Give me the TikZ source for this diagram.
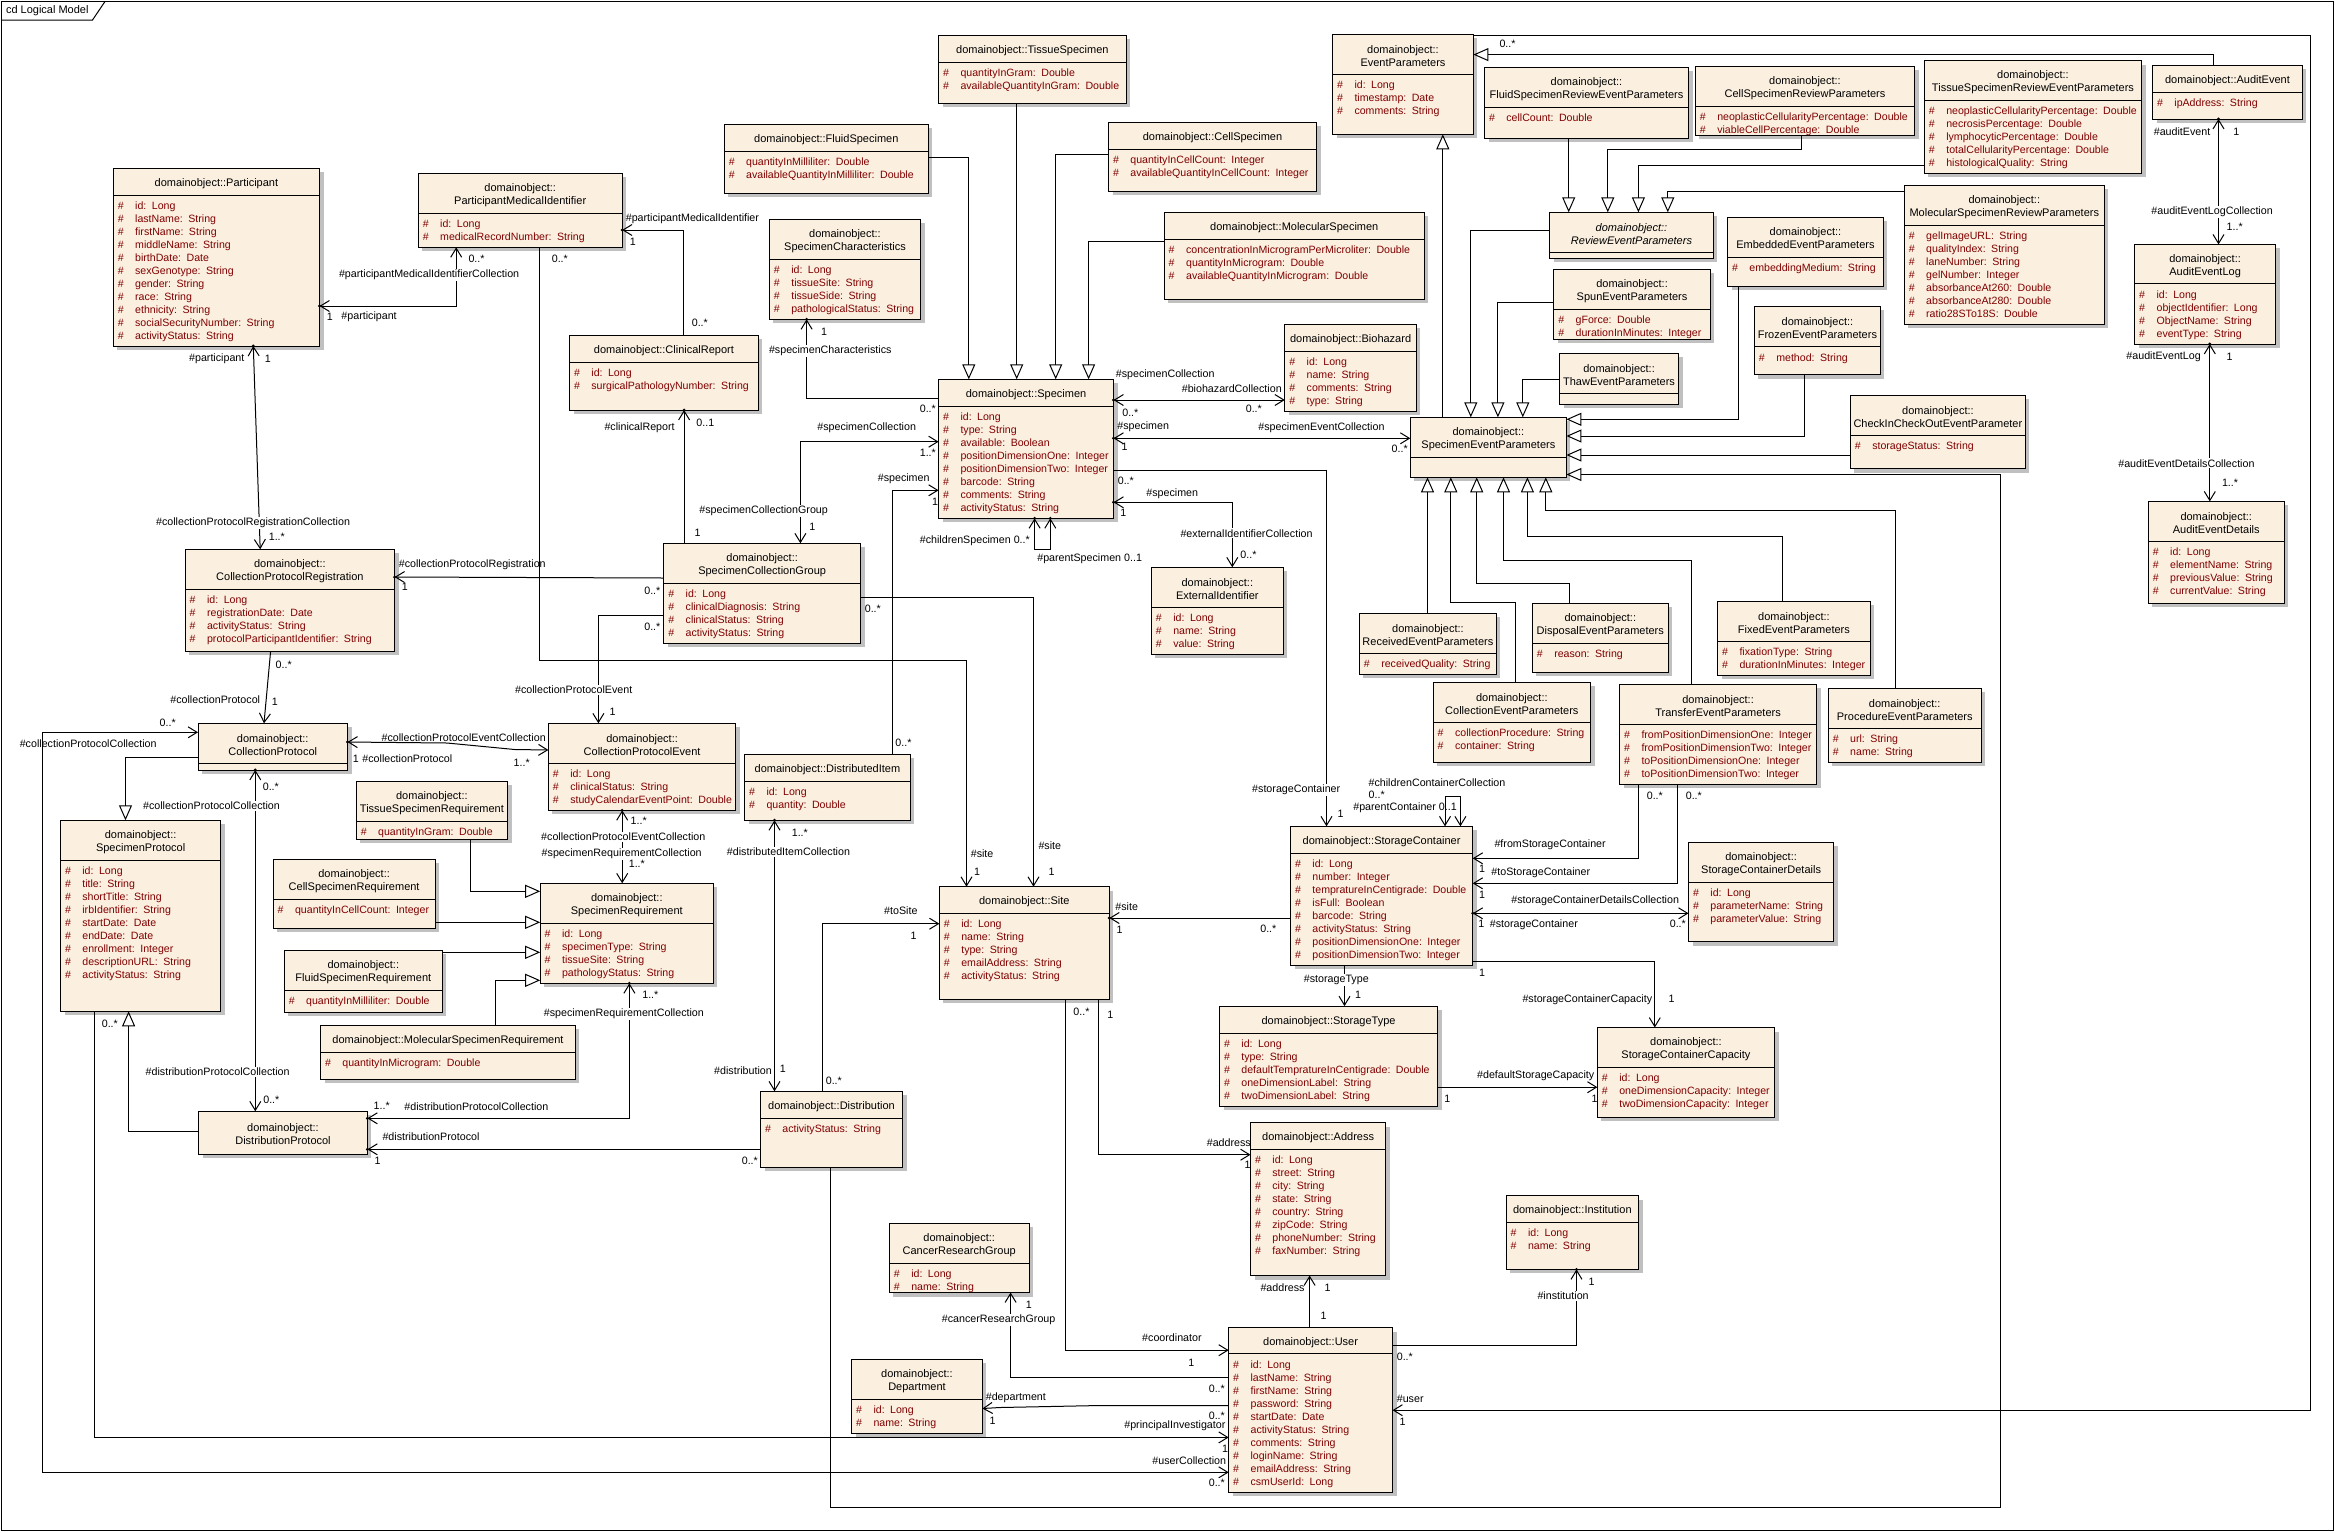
\documentclass[tikz,border=0pt]{standalone}
\usepackage{fontspec}
\setmainfont{Liberation Sans}
\usetikzlibrary{arrows.meta,fit}
\definecolor{cream}{RGB}{251,240,224}
\definecolor{attrred}{RGB}{128,0,0}
\definecolor{shdw}{RGB}{192,192,192}
\tikzset{
  box/.style={draw, fill=cream, inner sep=0pt, outer sep=0pt, line width=1pt},
  ttl/.style={font=\fontsize{11}{13}\selectfont, align=center, inner sep=0pt},
  attr/.style={font=\fontsize{10.6}{13}\selectfont, text=attrred, inner sep=0pt, anchor=base west},
  lbl/.style={font=\fontsize{10.7}{13}\selectfont, inner sep=0.3pt, anchor=west},
  lblw/.style={lbl, fill=white, inner sep=1pt},
  nav/.style={-{Straight Barb[length=9pt,width=11pt]}},
  both/.style={{Straight Barb[length=9pt,width=11pt]}-{Straight Barb[length=9pt,width=11pt]}},
  gen/.style={-{Triangle[open,length=15pt,width=13pt]}},
}
% name, L, T, R, B, separator, title, attributes
\newcommand\cls[8]{%
  \fill[shdw] (#2+4,#3+4) rectangle (#4+4,#5+4);
  \node[box, fit={(#2,#3) (#4,#5)}] (#1) {};
  \draw (#2,#6) -- (#4,#6);
  \node[ttl] at ({(#2+#4)/2},{(#3+#6)/2+1.5}) {#7};
  \foreach \aN/\aT [count=\ai] in {#8} {
    \node[attr] at (#2+4,{#6+14.2+13*(\ai-1)}) {\makebox[17.4pt][l]{\#}\aN:\hspace{5.5pt}\aT};
  }
}
\newcommand\clsE[7]{%
  \fill[shdw] (#2+4,#3+4) rectangle (#4+4,#5+4);
  \node[box, fit={(#2,#3) (#4,#5)}] (#1) {};
  \draw (#2,#6) -- (#4,#6);
  \node[ttl] at ({(#2+#4)/2},{(#3+#6)/2+1.5}) {#7};
}
\newcommand\clsN[6]{%
  \fill[shdw] (#2+4,#3+4) rectangle (#4+4,#5+4);
  \node[box, fit={(#2,#3) (#4,#5)}] (#1) {};
  \node[ttl] at ({(#2+#4)/2},{(#3+#5)/2+1}) {#6};
}
\newcommand\lbl[3]{\node[lbl] at (#1,#2) {#3};}
\newcommand\lblw[3]{\node[lblw] at (#1,#2) {#3};}
\newcommand\dotp[1]{\fill #1 circle (1.6pt);}
\begin{document}
\begin{tikzpicture}[x=1pt,y=-1pt,line width=1pt]
\useasboundingbox (0,0) rectangle (2335,1532);
\fill[white] (0,0) rectangle (2335,1532);
% frame
\draw (1.5,1.5) rectangle (2333.5,1530.5);
\draw (1.5,20) -- (92.5,20) -- (105,1.5);
\node[ttl, anchor=west] (frametitle) at (5.5,11) {cd Logical Model};

% ---------------- classes ----------------
\cls{part}{113.3}{168.3}{319.5}{346}{195.3}{domainobject::Participant}{id/Long, lastName/String, firstName/String, middleName/String, birthDate/Date, sexGenotype/String, gender/String, race/String, ethnicity/String, socialSecurityNumber/String, activityStatus/String}
\cls{pmi}{418.3}{173.3}{622.1}{247.3}{213.3}{domainobject::\\ParticipantMedicalIdentifier}{id/Long, medicalRecordNumber/String}
\cls{clin}{569.5}{335}{758.3}{410}{362.3}{domainobject::ClinicalReport}{id/Long, surgicalPathologyNumber/String}
\cls{fluid}{724.3}{124.3}{928.3}{193.3}{151.3}{domainobject::FluidSpecimen}{quantityInMilliliter/Double, availableQuantityInMilliliter/Double}
\cls{tissue}{938.6}{35.3}{1126.1}{103.3}{62.3}{domainobject::TissueSpecimen}{quantityInGram/Double, availableQuantityInGram/Double}
\cls{cell}{1108.5}{122.3}{1316.5}{191.3}{149.3}{domainobject::CellSpecimen}{quantityInCellCount/Integer, availableQuantityInCellCount/Integer}
\cls{schar}{769.4}{219.3}{920.6}{319.3}{259.3}{domainobject::\\SpecimenCharacteristics}{id/Long, tissueSite/String, tissueSide/String, pathologicalStatus/String}
\cls{mol}{1164.2}{212.3}{1424.4}{299.3}{239.3}{domainobject::MolecularSpecimen}{concentrationInMicrogramPerMicroliter/Double, quantityInMicrogram/Double, availableQuantityInMicrogram/Double}
\cls{spec}{938.6}{379.3}{1113.5}{518.3}{406.3}{domainobject::Specimen}{id/Long, type/String, available/Boolean, positionDimensionOne/Integer, positionDimensionTwo/Integer, barcode/String, comments/String, activityStatus/String}
\cls{bio}{1284.8}{324.3}{1416.4}{411.3}{351}{domainobject::Biohazard}{id/Long, name/String, comments/String, type/String}
\cls{ep}{1332.6}{34.3}{1473.4}{134.3}{74.3}{domainobject::\\EventParameters}{id/Long, timestamp/Date, comments/String}
\cls{fsrep}{1484.5}{67.3}{1688.5}{138}{107.3}{domainobject::\\FluidSpecimenReviewEventParameters}{cellCount/Double}
\cls{csrp}{1695.4}{66.4}{1914.6}{135.2}{106.4}{domainobject::\\CellSpecimenReviewParameters}{neoplasticCellularityPercentage/Double, viableCellPercentage/Double}
\cls{tsrep}{1924.4}{60.5}{2141.5}{173.2}{100}{domainobject::\\TissueSpecimenReviewEventParameters}{neoplasticCellularityPercentage/Double, necrosisPercentage/Double, lymphocyticPercentage/Double, totalCellularityPercentage/Double, histologicalQuality/String}
\cls{aev}{2152.5}{65.2}{2302.4}{119}{92.5}{domainobject::AuditEvent}{ipAddress/String}
\cls{msrp}{1904.3}{185.4}{2104.3}{324.2}{225.4}{domainobject::\\MolecularSpecimenReviewParameters}{gelImageURL/String, qualityIndex/String, laneNumber/String, gelNumber/Integer, absorbanceAt260/Double, absorbanceAt280/Double, ratio28STo18S/Double}
\cls{emb}{1727.5}{217}{1883.4}{286}{257}{domainobject::\\EmbeddedEventParameters}{embeddingMedium/String}
\cls{frozen}{1754.4}{306.4}{1880.4}{374.8}{346.8}{domainobject::\\FrozenEventParameters}{method/String}
\cls{chk}{1850.4}{395.4}{2025.4}{468.6}{435.3}{domainobject::\\CheckInCheckOutEventParameter}{storageStatus/String}
\cls{ael}{2134.7}{244.4}{2275.5}{344}{283.9}{domainobject::\\AuditEventLog}{id/Long, objectIdentifier/Long, ObjectName/String, eventType/String}
\cls{aed}{2148.3}{501.4}{2284.2}{603}{541}{domainobject::\\AuditEventDetails}{id/Long, elementName/String, previousValue/String, currentValue/String}
\clsE{rep}{1549.6}{212.3}{1713.4}{258}{252}{\itshape domainobject::\\\itshape ReviewEventParameters}
\cls{spun}{1553.8}{269.3}{1710.3}{339.3}{309.3}{domainobject::\\SpunEventParameters}{gForce/Double, durationInMinutes/Integer}
\clsE{thaw}{1559.5}{353.3}{1678.6}{404.3}{393.3}{domainobject::\\ThawEventParameters}
\clsE{sep}{1410.3}{417.3}{1566.4}{477.3}{457.3}{domainobject::\\SpecimenEventParameters}
\cls{extid}{1151.4}{567.3}{1283.2}{654.3}{607.3}{domainobject::\\ExternalIdentifier}{id/Long, name/String, value/String}
\cls{recv}{1359.4}{613.3}{1496.4}{674}{653.3}{domainobject::\\ReceivedEventParameters}{receivedQuality/String}
\cls{disp}{1532.4}{603.3}{1668.2}{672.3}{643.3}{domainobject::\\DisposalEventParameters}{reason/String}
\cls{colev}{1433.2}{682.3}{1590.5}{762.3}{722.3}{domainobject::\\CollectionEventParameters}{collectionProcedure/String, container/String}
\cls{trans}{1619.6}{684.3}{1816.5}{784.3}{724.3}{domainobject::\\TransferEventParameters}{fromPositionDimensionOne/Integer, fromPositionDimensionTwo/Integer, toPositionDimensionOne/Integer, toPositionDimensionTwo/Integer}
\cls{fixed}{1717.6}{601.3}{1870.2}{675.3}{641.7}{domainobject::\\FixedEventParameters}{fixationType/String, durationInMinutes/Integer}
\cls{proc}{1828.3}{688.3}{1981.2}{762.3}{728.7}{domainobject::\\ProcedureEventParameters}{url/String, name/String}
\cls{scd}{1688.5}{842.3}{1833.7}{941.7}{882.3}{domainobject::\\StorageContainerDetails}{id/Long, parameterName/String, parameterValue/String}
\cls{sc}{1290.5}{826.3}{1472.7}{965}{853}{domainobject::StorageContainer}{id/Long, number/Integer, tempratureInCentigrade/Double, isFull/Boolean, barcode/String, activityStatus/String, positionDimensionOne/Integer, positionDimensionTwo/Integer}
\cls{stype}{1219.5}{1006.1}{1437.6}{1106.2}{1033.3}{domainobject::StorageType}{id/Long, type/String, defaultTempratureInCentigrade/Double, oneDimensionLabel/String, twoDimensionLabel/String}
\cls{scc}{1597.4}{1027.5}{1774.5}{1117.4}{1067.2}{domainobject::\\StorageContainerCapacity}{id/Long, oneDimensionCapacity/Integer, twoDimensionCapacity/Integer}
\cls{inst}{1506.1}{1195.5}{1638.5}{1269.4}{1222.6}{domainobject::Institution}{id/Long, name/String}
\cls{addr}{1250.5}{1122.5}{1385.7}{1275.5}{1149.3}{domainobject::Address}{id/Long, street/String, city/String, state/String, country/String, zipCode/String, phoneNumber/String, faxNumber/String}
\cls{user}{1228.7}{1327.5}{1392.5}{1492}{1353.9}{domainobject::User}{id/Long, lastName/String, firstName/String, password/String, startDate/Date, activityStatus/String, comments/String, loginName/String, emailAddress/String, csmUserId/Long}
\cls{crg}{889.4}{1223.3}{1029}{1292.5}{1263.3}{domainobject::\\CancerResearchGroup}{id/Long, name/String}
\cls{dept}{851.6}{1359.4}{982.4}{1433.3}{1399.4}{domainobject::\\Department}{id/Long, name/String}
\cls{dist}{760.5}{1091.3}{902.5}{1167.3}{1118.4}{domainobject::Distribution}{activityStatus/String}
\cls{site}{939.4}{886.7}{1109.3}{999}{913.3}{domainobject::Site}{id/Long, name/String, type/String, emailAddress/String, activityStatus/String}
\cls{ditem}{744.6}{754.3}{910.3}{820.3}{781.7}{domainobject::DistributedItem}{id/Long, quantity/Double}
\cls{scg}{663.8}{543.3}{860.5}{643.3}{583.3}{domainobject::\\SpecimenCollectionGroup}{id/Long, clinicalDiagnosis/String, clinicalStatus/String, activityStatus/String}
\cls{cpe}{548.4}{723.3}{735.8}{810.3}{763.3}{domainobject::\\CollectionProtocolEvent}{id/Long, clinicalStatus/String, studyCalendarEventPoint/Double}
\cls{sreq}{540.2}{883.3}{713.4}{983.3}{923.3}{domainobject::\\SpecimenRequirement}{id/Long, specimenType/String, tissueSite/String, pathologyStatus/String}
\cls{tsreq}{356.3}{781.3}{507.5}{839}{821.3}{domainobject::\\TissueSpecimenRequirement}{quantityInGram/Double}
\cls{csreq}{273.2}{859.3}{435.1}{928}{899.3}{domainobject::\\CellSpecimenRequirement}{quantityInCellCount/Integer}
\cls{fsreq}{284.3}{950.3}{442.4}{1012.3}{990.3}{domainobject::\\FluidSpecimenRequirement}{quantityInMilliliter/Double}
\cls{msreq}{320.5}{1025.4}{575.4}{1079.4}{1052.6}{domainobject::MolecularSpecimenRequirement}{quantityInMicrogram/Double}
\cls{cpr}{185.2}{549.3}{394.6}{651.3}{589.3}{domainobject::\\CollectionProtocolRegistration}{id/Long, registrationDate/Date, activityStatus/String, protocolParticipantIdentifier/String}
\cls{sprot}{60.5}{820.3}{220.8}{1011.3}{860.3}{domainobject::\\SpecimenProtocol}{id/Long, title/String, shortTitle/String, irbIdentifier/String, startDate/Date, endDate/Date, enrollment/Integer, descriptionURL/String, activityStatus/String}
\clsE{cp}{198}{723.3}{347.5}{770}{763.3}{domainobject::\\CollectionProtocol}
\clsN{dprot}{198.6}{1111.3}{367.4}{1154.4}{domainobject::\\DistributionProtocol}

% ---------------- associations ----------------
\draw[both] (pmi.south -| 456.2,0) -- (456.2,306) -- (part.east |- 0,306);
\dotp{(part.east |- 0,306)}
\draw[both] (part.south -| 253.3,0) -- (cpr.north -| 260.2,0);
\dotp{(part.south -| 253.3,0)}
\draw[nav] (clin.north -| 683.3,0) |- (pmi.east |- 0,230);
\dotp{(pmi.east |- 0,230)}
\draw[nav] (pmi.south -| 539.6,0) -- (539.6,660.3) -- (966.5,660.3) -- (site.north -| 966.5,0);
\draw[nav] (scg.north -| 684.1,0) -- (clin.south -| 684.1,0);
\dotp{(clin.south -| 684.1,0)}
\draw[nav] (spec.west |- 0,398.3) -| (schar.south -| 806.6,0);
\dotp{(schar.south -| 806.6,0)}
\draw[both] (scg.north -| 800.4,0) |- (spec.west |- 0,441.7);
\draw[nav] (ditem.north -| 892.3,0) |- (spec.west |- 0,490.3);
\draw[both] (spec.south -| 1034.6,0) -- (1034.6,549.3) -- (1050.3,549.3) -- (spec.south -| 1050.3,0);
\dotp{(spec.south -| 1034.6,0)}
\dotp{(spec.south -| 1050.3,0)}
\draw[both] (spec.east |- 0,438.3) -- (sep.west |- 0,438.3);
\dotp{(spec.east |- 0,438.3)}
\draw[both] (spec.east |- 0,400) -- (bio.west |- 0,400);
\dotp{(spec.east |- 0,400)}
\draw[both] (spec.east |- 0,502.3) -| (extid.north -| 1232.3,0);
\dotp{(spec.east |- 0,502.3)}
\draw[nav] (spec.east |- 0,470.3) -| (sc.north -| 1326.5,0);
\draw[nav] (scg.east |- 0,597) -| (site.north -| 1033.5,0);
\draw[nav] (scg.west |- 0,578) -- (cpr.east |- 0,577);
\dotp{(cpr.east |- 0,577)}
\draw[nav] (scg.west |- 0,615.7) -| (cpe.north -| 598.4,0);
\draw[nav] (cpr.south -| 270.6,0) -- (cp.north -| 264,0);
\draw[both] (cp.east |- 0,742) -- (447,743) -- (514.7,749.5) -- (cpe.west |- 0,750);
\dotp{(cp.east |- 0,742)}
\draw[both] (user.west |- 0,1472.3) -| (42.4,732.3) -- (cp.west |- 0,732.3);
\draw[nav] (sprot.south -| 94.6,0) |- (user.west |- 0,1437.4);
\draw[both] (cp.south -| 255.3,0) -- (dprot.north -| 255.3,0);
\dotp{(cp.south -| 255.3,0)}
\draw[both] (sreq.south -| 629.4,0) |- (dprot.east |- 0,1118.3);
\dotp{(sreq.south -| 629.4,0)}
\dotp{(dprot.east |- 0,1118.3)}
\draw[nav] (dist.west |- 0,1149.3) -- (dprot.east |- 0,1149.3);
\dotp{(dprot.east |- 0,1149.3)}
\draw[both] (ditem.south -| 774.5,0) -- (dist.north -| 774.5,0);
\dotp{(ditem.south -| 774.5,0)}
\draw[nav] (dist.north -| 822.3,0) |- (site.west |- 0,923.7);
\draw[nav] (ep.east |- 0,35.5) -- (2310.5,35.5) -- (2310.5,1410.2) -- (user.east |- 0,1410.2);
\draw[nav] (user.east |- 0,1345.4) -| (inst.south -| 1576.5,0);
\dotp{(inst.south -| 1576.5,0)}
\draw[nav] (user.north -| 1309.6,0) -- (addr.south -| 1309.6,0);
\draw[nav] (site.south -| 1098.3,0) |- (addr.west |- 0,1154.7);
\draw[nav] (site.south -| 1065.3,0) |- (user.west |- 0,1350.2);
\draw[nav] (user.west |- 0,1377) -| (crg.south -| 1010.6,0);
\draw[nav] (user.west |- 0,1405.5) -- (1100,1405.5) -- (1000,1407.5) -- (dept.east |- 0,1408.5);
\draw[nav] (sc.west |- 0,918) -- (site.east |- 0,918);
\dotp{(site.east |- 0,918)}
\draw[both] (sc.north -| 1445,0) -- (1445,796.3) -- (1460.4,796.3) -- (sc.north -| 1460.4,0);
\draw[nav] (trans.south -| 1638.4,0) |- (sc.east |- 0,858.3);
\draw[nav] (trans.south -| 1677.4,0) |- (sc.east |- 0,883.3);
\draw[both] (sc.east |- 0,913.3) -- (scd.west |- 0,913.3);
\dotp{(sc.east |- 0,913.3)}
\draw[nav] (sc.south -| 1344.5,0) -- (stype.north -| 1344.5,0);
\draw[nav] (sc.east |- 0,961.7) -| (scc.north -| 1654.8,0);
\draw[nav] (stype.east |- 0,1087.2) -- (scc.west |- 0,1087.2);
\draw[both] (aev.south -| 2218.5,0) -- (ael.north -| 2218.5,0);
\dotp{(aev.south -| 2218.5,0)}
\draw[both] (ael.south -| 2209.8,0) -- (aed.north -| 2209.8,0);
\dotp{(ael.south -| 2209.8,0)}
\draw[both] (cpe.south -| 622.2,0) -- (sreq.north -| 622.2,0);
\dotp{(cpe.south -| 622.2,0)}

% ---------------- generalizations ----------------
\draw[gen] (fluid.east |- 0,157.3) -| (spec.north -| 968.8,0);
\draw[gen] (tissue.south -| 1016.7,0) -- (spec.north -| 1016.7,0);
\draw[gen] (cell.west |- 0,154.3) -| (spec.north -| 1055.7,0);
\draw[gen] (mol.west |- 0,241.3) -| (spec.north -| 1088.6,0);
\draw[gen] (rep.west |- 0,230) -| (sep.north -| 1470.8,0);
\draw[gen] (spun.west |- 0,302.3) -| (sep.north -| 1497.9,0);
\draw[gen] (thaw.west |- 0,379.3) -| (sep.north -| 1522.8,0);
\draw[gen] (sep.north -| 1442.8,0) -- (ep.south -| 1442.8,0);
\draw[gen] (emb.south -| 1738.6,0) |- (sep.east |- 0,419.3);
\draw[gen] (frozen.south -| 1804.5,0) |- (sep.east |- 0,436);
\draw[gen] (chk.west |- 0,455) -- (sep.east |- 0,455);
\draw[gen] (dist.south -| 830.3,0) -- (830.3,1507.3) -- (2000.4,1507.3) -- (2000.4,474.5) -- (sep.east |- 0,474.5);
\draw[gen] (recv.north -| 1427.5,0) -- (sep.south -| 1427.5,0);
\draw[gen] (colev.north -| 1515.5,0) |- (1450.8,602.3) -- (sep.south -| 1450.8,0);
\draw[gen] (disp.north -| 1569.5,0) |- (1476.7,583.3) -- (sep.south -| 1476.7,0);
\draw[gen] (trans.north -| 1691.6,0) |- (1503.5,560.3) -- (sep.south -| 1503.5,0);
\draw[gen] (fixed.north -| 1782.8,0) |- (1527.4,536.7) -- (sep.south -| 1527.4,0);
\draw[gen] (proc.north -| 1895.3,0) |- (1545.8,510) -- (sep.south -| 1545.8,0);
\draw[gen] (fsrep.south -| 1568.7,0) -- (rep.north -| 1568.7,0);
\draw[gen] (csrp.south -| 1801.5,0) |- (1607.8,149.4) -- (rep.north -| 1607.8,0);
\draw[gen] (tsrep.west |- 0,165.5) -| (rep.north -| 1638.4,0);
\draw[gen] (msrp.west |- 0,191.5) -| (rep.north -| 1667.8,0);
\draw[gen] (aev.north -| 2213.2,0) |- (ep.east |- 0,54.6);
\draw[gen] (cp.west |- 0,757.3) -| (sprot.north -| 125.5,0);
\draw[gen] (dprot.west |- 0,1131.3) -| (sprot.south -| 128.6,0);
\draw[gen] (tsreq.south -| 470.5,0) |- (sreq.west |- 0,891.3);
\draw[gen] (csreq.east |- 0,922.3) -- (sreq.west |- 0,922.3);
\draw[gen] (fsreq.east |- 0,952.3) -- (sreq.west |- 0,952.3);
\draw[gen] (msreq.north -| 495.5,0) |- (sreq.west |- 0,980.3);

% ---------------- labels ----------------
\lblw{337.5}{274.7}{\#participantMedicalIdentifierCollection}
\lbl{467.7}{259.3}{0..*}
\lbl{326}{317.3}{1}
\lbl{340.6}{316.7}{\#participant}
\lbl{188.3}{359}{\#participant}
\lbl{264}{359}{1}
\lblw{154.6}{522.7}{\#collectionProtocolRegistrationCollection}
\lbl{268}{537.3}{1..*}
\lbl{625}{218.7}{\#participantMedicalIdentifier}
\lbl{629}{241.7}{1}
\lbl{691}{323.3}{0..*}
\lbl{551}{259.3}{0..*}
\lbl{970}{853.3}{\#site}
\lbl{973.4}{871.7}{1}
\lbl{603.7}{427.7}{\#clinicalReport}
\lbl{695.6}{422.7}{0..1}
\lbl{693.7}{533.3}{1}
\lbl{820.3}{331.7}{1}
\lblw{767.5}{350.7}{\#specimenCharacteristics}
\lbl{919}{409.3}{0..*}
\lbl{816.5}{427.7}{\#specimenCollection}
\lbl{919}{452.7}{1..*}
\lblw{697.9}{510.7}{\#specimenCollectionGroup}
\lbl{808.5}{526.7}{1}
\lbl{877}{479}{\#specimen}
\lbl{931.3}{501.7}{1}
\lbl{894.6}{743.3}{0..*}
\lbl{919}{540.7}{\#childrenSpecimen 0..*}
\lbl{1036.5}{559}{\#parentSpecimen 0..1}
\lbl{1116.5}{427}{\#specimen}
\lbl{1120.8}{446.7}{1}
\lbl{1257.6}{427.7}{\#specimenEventCollection}
\lbl{1390.8}{449.3}{0..*}
\lbl{1115}{374.7}{\#specimenCollection}
\lbl{1121.5}{412.7}{0..*}
\lbl{1181}{388.7}{\#biohazardCollection}
\lbl{1245}{409.3}{0..*}
\lbl{1145.6}{494}{\#specimen}
\lbl{1119.6}{513.3}{1}
\lblw{1179}{533.3}{\#externalIdentifierCollection}
\lbl{1239.6}{555.3}{0..*}
\lbl{1117}{481.3}{0..*}
\lblw{1250.7}{789.7}{\#storageContainer}
\lbl{1336.8}{814}{1}
\lbl{864}{609.3}{0..*}
\lbl{1037.7}{845.7}{\#site}
\lbl{1047.7}{871.7}{1}
\lbl{398}{564.7}{\#collectionProtocolRegistration}
\lbl{401}{587.3}{1}
\lbl{643.5}{590.7}{0..*}
\lbl{643.5}{626.7}{0..*}
\lblw{513.6}{690}{\#collectionProtocolEvent}
\lbl{608.7}{712}{1}
\lbl{274.8}{664.7}{0..*}
\lbl{169.5}{700}{\#collectionProtocol}
\lbl{271}{702}{1}
\lbl{380.8}{737.7}{\#collectionProtocolEventCollection}
\lbl{352}{758.7}{1}
\lbl{361.6}{758.7}{\#collectionProtocol}
\lbl{512.8}{763}{1..*}
\lbl{158.8}{723.3}{0..*}
\lbl{19}{743.7}{\#collectionProtocolCollection}
\lbl{262}{787.3}{0..*}
\lblw{141.6}{805.7}{\#collectionProtocolCollection}
\lblw{144.2}{1071.6}{\#distributionProtocolCollection}
\lbl{262.5}{1099.8}{0..*}
\lbl{101}{1023.8}{0..*}
\lbl{641.5}{995}{1..*}
\lblw{542.4}{1013.7}{\#specimenRequirementCollection}
\lbl{372.8}{1106}{1..*}
\lbl{403.6}{1106.7}{\#distributionProtocolCollection}
\lbl{381.7}{1136.7}{\#distributionProtocol}
\lbl{373.7}{1160.7}{1}
\lbl{741}{1160.7}{0..*}
\lbl{791}{833.3}{1..*}
\lblw{725.4}{851.7}{\#distributedItemCollection}
\lbl{713.4}{1070.7}{\#distribution}
\lbl{779}{1069.3}{1}
\lbl{825}{1080.7}{0..*}
\lbl{883.4}{910.7}{\#toSite}
\lbl{909.8}{935.7}{1}
\lbl{1396}{1398.7}{\#user}
\lbl{1398.8}{1421.8}{1}
\lbl{1498.7}{44.3}{0..*}
\lbl{1587.8}{1282.3}{1}
\lblw{1536}{1296}{\#institution}
\lbl{1396}{1356.3}{0..*}
\lbl{1259.7}{1287.7}{\#address}
\lbl{1323.7}{1287.7}{1}
\lbl{1319.8}{1315.6}{1}
\lbl{1106.5}{1015.3}{1}
\lbl{1206}{1142.5}{\#address}
\lbl{1243.7}{1165.3}{1}
\lbl{1072.6}{1011.9}{0..*}
\lbl{1141.4}{1337.6}{\#coordinator}
\lbl{1187.5}{1362.4}{1}
\lbl{1025}{1304.7}{1}
\lblw{940.3}{1319.6}{\#cancerResearchGroup}
\lbl{1208}{1388.5}{0..*}
\lbl{985}{1397.7}{\#department}
\lbl{988.8}{1420.8}{1}
\lbl{1208}{1415.7}{0..*}
\lbl{1123.5}{1425.9}{\#principalInvestigator}
\lbl{1221.4}{1448.6}{1}
\lbl{1151.6}{1460.8}{\#userCollection}
\lbl{1208}{1482.5}{0..*}
\lbl{1114.6}{906.7}{\#site}
\lbl{1115.8}{930}{1}
\lbl{1259.5}{929.3}{0..*}
\lbl{1367.8}{782.7}{\#childrenContainerCollection}
\lbl{1367.8}{795.3}{0..*}
\lbl{1352.5}{807.7}{\#parentContainer 0..1}
\lbl{1646}{796.3}{0..*}
\lbl{1685}{796.3}{0..*}
\lbl{1493.7}{844.7}{\#fromStorageContainer}
\lbl{1478.4}{869.3}{1}
\lbl{1490.6}{872.7}{\#toStorageContainer}
\lbl{1478.4}{895}{1}
\lbl{1510.5}{900.7}{\#storageContainerDetailsCollection}
\lbl{1477.6}{924.3}{1}
\lbl{1489}{924.3}{\#storageContainer}
\lbl{1669}{924.3}{0..*}
\lblw{1302.4}{980}{\#storageType}
\lbl{1354.4}{995}{1}
\lbl{1478.4}{972.7}{1}
\lbl{1521.7}{1000}{\#storageContainerCapacity}
\lbl{1667.8}{999}{1}
\lbl{1476.3}{1076}{\#defaultStorageCapacity}
\lbl{1443.5}{1099}{1}
\lbl{1590.8}{1099}{1}
\lbl{2153}{131.7}{\#auditEvent}
\lbl{2232.6}{131.7}{1}
\lblw{2149.9}{212}{\#auditEventLogCollection}
\lbl{2225.8}{226.6}{1..*}
\lbl{2125.6}{356.7}{\#auditEventLog}
\lbl{2225.8}{356.7}{1}
\lblw{2116.8}{463.4}{\#auditEventDetailsCollection}
\lbl{2221.2}{482.4}{1..*}
\lblw{539.7}{836.7}{\#collectionProtocolEventCollection}
\lblw{540.2}{853.7}{\#specimenRequirementCollection}
\lbl{628}{864.3}{1..*}
\lbl{629.8}{820.7}{1..*}
\end{tikzpicture}
\end{document}
